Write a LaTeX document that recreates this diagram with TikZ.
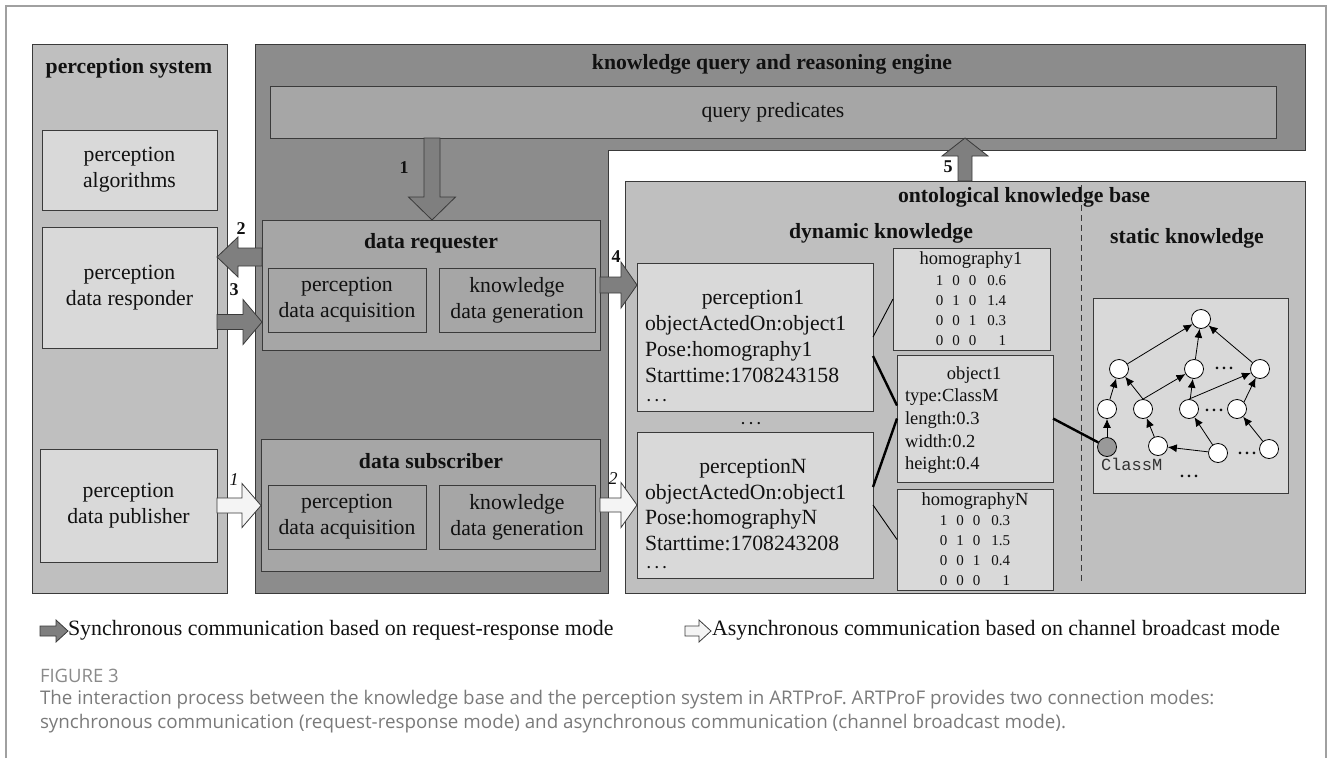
\documentclass[tikz,border=0pt]{standalone}
\usepackage{fontspec}
\setmainfont{Liberation Serif}
\setmonofont{Liberation Mono}
\newfontfamily\capfont{Open Sans}
\usetikzlibrary{calc,arrows.meta}
\definecolor{psgray}{HTML}{BFBFBF}
\definecolor{light}{HTML}{D9D9D9}
\definecolor{engcol}{HTML}{8C8C8C}
\definecolor{midgray}{HTML}{A6A6A6}
\definecolor{edge}{HTML}{3A3A3A}
\definecolor{arrfill}{HTML}{7F7F7F}
\definecolor{arrwhite}{HTML}{F4F4F4}
\definecolor{txtcol}{HTML}{111111}
\definecolor{framecol}{HTML}{A0A0A0}
\definecolor{capcol}{HTML}{7A7A7A}
\definecolor{capfig}{HTML}{8A8A8A}
\definecolor{cmgray}{HTML}{999999}
\newcommand\fmain{\fontsize{21.7}{26}\selectfont}
\newcommand\fsmall{\fontsize{18.5}{22}\selectfont}
\newcommand\fmat{\fontsize{15}{20}\selectfont}
\newcommand\flab{\fontsize{18}{20}\selectfont}
\newcommand\fdots{\fontsize{14}{16}\selectfont\bfseries}
\newcommand\mydots{.\kern3pt.\kern3pt.}
\newcommand\widedots{.\kern4.5pt.\kern4.5pt.}
% horizontal block arrow: style, from, to, shaft half, head half, head length
\newcommand\harrow[6]{%
  \draw[#1] let \p1=#2, \p2=#3, \n1={sign(\x2-\x1)} in
  (\x1,{\y1+#4pt}) -- ({\x2-(\n1)*#6pt},{\y1+#4pt}) -- ({\x2-(\n1)*#6pt},{\y1+#5pt})
  -- (\x2,\y1) -- ({\x2-(\n1)*#6pt},{\y1-#5pt}) -- ({\x2-(\n1)*#6pt},{\y1-#4pt})
  -- (\x1,{\y1-#4pt}) -- cycle;}
% vertical block arrow
\newcommand\varrow[6]{%
  \draw[#1] let \p1=#2, \p2=#3, \n1={sign(\y2-\y1)} in
  ({\x1+#4pt},\y1) -- ({\x1+#4pt},{\y2-(\n1)*#6pt}) -- ({\x1+#5pt},{\y2-(\n1)*#6pt})
  -- (\x1,\y2) -- ({\x1-#5pt},{\y2-(\n1)*#6pt}) -- ({\x1-#4pt},{\y2-(\n1)*#6pt})
  -- ({\x1-#4pt},\y1) -- cycle;}
\begin{document}
\begin{tikzpicture}[x=1pt,y=-1pt,
  box/.style={draw=edge,line width=0.9pt,anchor=north west,inner sep=0pt,outer sep=0pt,text=txtcol},
  txt/.style={inner sep=0pt,outer sep=0pt,text=txtcol},
  darr/.style={draw=edge,line width=0.8pt,fill=arrfill},
  warr/.style={draw=edge,line width=0.8pt,fill=arrwhite},
  tnode/.style={circle,draw=black,line width=0.8pt,fill=white,minimum size=19pt,inner sep=0pt},
  tedge/.style={-{Latex[length=9pt,width=8pt]},line width=0.8pt},
  link/.style={line width=0.9pt,draw=black},
  blink/.style={line width=2.4pt,draw=black},
  lab/.style={txt,font=\flab\bfseries},
  ilab/.style={txt,font=\flab\itshape},
]
\useasboundingbox (0,0) rectangle (1330,758);
\draw[framecol,line width=1.3pt] (6,758) -- (6,6) -- (1326,6) -- (1326,758);

% ---------- perception system ----------
\node[box,fill=psgray,minimum width=195pt,minimum height=549pt] (ps) at (32,44) {};
\node[txt,font=\fmain\bfseries] (pst) at (129,68) {perception system};
\node[box,fill=light,minimum width=175pt,minimum height=80pt,font=\fmain,align=center] (palg) at (42,130) {perception\\algorithms};
\node[box,fill=light,minimum width=175pt,minimum height=121pt,font=\fmain,align=center] (presp) at (42,227) {perception\\data responder};
\node[box,fill=light,minimum width=177pt,minimum height=113pt,font=\fmain,align=center] (ppub) at (40,449) {perception\\data publisher};

% ---------- engine ----------
\draw[draw=edge,line width=0.9pt,fill=engcol] (255,44) -- (1305,44) -- (1305,150) -- (608,150) -- (608,593) -- (255,593) -- cycle;
\node[txt,font=\fmain\bfseries] (engt) at (772,64) {knowledge query and reasoning engine};
\node[box,fill=midgray,minimum width=1006pt,minimum height=52pt,font=\fmain] (qp) at (270,86) {query predicates};

\node[box,fill=midgray,minimum width=338pt,minimum height=130pt] (dr) at (262,220) {};
\node[txt,font=\fmain\bfseries] (drt) at (431,243) {data requester};
\node[box,fill=midgray,minimum width=158pt,minimum height=64pt,font=\fmain,align=center] (drA) at (268,268) {perception\\data acquisition};
\node[box,fill=midgray,minimum width=156pt,minimum height=64pt,font=\fmain,align=center] (drB) at (439,268) {knowledge\\data generation};

\node[box,fill=midgray,minimum width=339pt,minimum height=132pt] (ds) at (261,439) {};
\node[txt,font=\fmain\bfseries] (dst) at (431,461) {data subscriber};
\node[box,fill=midgray,minimum width=158pt,minimum height=64pt,font=\fmain,align=center] (dsA) at (268,485) {perception\\data acquisition};
\node[box,fill=midgray,minimum width=156pt,minimum height=64pt,font=\fmain,align=center] (dsB) at (439,485) {knowledge\\data generation};

% ---------- ontological knowledge base ----------
\node[box,fill=psgray,minimum width=680pt,minimum height=412pt] (kb) at (625,181) {};
\node[txt,font=\fmain\bfseries] (kbt) at (1024,197) {ontological knowledge base};
\node[txt,font=\fmain\bfseries] (dyn) at (881,233) {dynamic knowledge};
\node[txt,font=\fmain\bfseries] (sta) at (1187,238) {static knowledge};
\coordinate (dash1) at (1081,185);
\coordinate (dash2) at (1081,582);
\draw[edge,line width=0.8pt,dash pattern=on 6pt off 4pt] (dash1) -- (dash2);

% perception1
\node[box,fill=light,minimum width=236pt,minimum height=148pt] (p1) at (637,263) {};
\node[txt,font=\fmain,anchor=base] (p1t) at (753,304) {perception1};
\node[txt,font=\fmain,anchor=base west] (p1a) at (645,330) {objectActedOn:object1};
\node[txt,font=\fmain,anchor=base west] (p1b) at (645,356) {Pose:homography1};
\node[txt,font=\fmain,anchor=base west] (p1c) at (645,382) {Starttime:1708243158};
\node[txt,font=\fdots,anchor=base west] (p1d) at (647,401) {\widedots};
\node[txt,font=\fdots,anchor=base] (pdots) at (751,424) {\widedots};

% perceptionN
\node[box,fill=light,minimum width=236pt,minimum height=146pt] (pN) at (637,432) {};
\node[txt,font=\fmain,anchor=base] (pNt) at (753,473) {perceptionN};
\node[txt,font=\fmain,anchor=base west] (pNa) at (645,499) {objectActedOn:object1};
\node[txt,font=\fmain,anchor=base west] (pNb) at (645,524) {Pose:homographyN};
\node[txt,font=\fmain,anchor=base west] (pNc) at (645,550) {Starttime:1708243208};
\node[txt,font=\fdots,anchor=base west] (pNd) at (647,568) {\widedots};

% homography1
\node[box,fill=light,minimum width=157pt,minimum height=102pt] (hm1) at (893,248) {};
\node[txt,font=\fsmall,anchor=base] (hm1t) at (971,264) {homography1};
\node[txt,font=\fmat,anchor=north] (hm1m) at (971,271) {\begin{tabular}{@{}c@{\hspace{9pt}}c@{\hspace{9pt}}c@{\hspace{11pt}}r@{}}1&0&0&0.6\\0&1&0&1.4\\0&0&1&0.3\\0&0&0&1\end{tabular}};

% object1
\node[box,fill=light,minimum width=156pt,minimum height=127pt] (obj) at (897,355) {};
\node[txt,font=\fsmall,anchor=base] (objt) at (974,379) {object1};
\node[txt,font=\fsmall,anchor=base west] (obja) at (905,401) {type:ClassM};
\node[txt,font=\fsmall,anchor=base west] (objb) at (905,424) {length:0.3};
\node[txt,font=\fsmall,anchor=base west] (objc) at (905,447) {width:0.2};
\node[txt,font=\fsmall,anchor=base west] (objd) at (905,469) {height:0.4};

% homographyN
\node[box,fill=light,minimum width=156pt,minimum height=101pt] (hmN) at (897,489) {};
\node[txt,font=\fsmall,anchor=base] (hmNt) at (975,505) {homographyN};
\node[txt,font=\fmat,anchor=north] (hmNm) at (975,511) {\begin{tabular}{@{}c@{\hspace{9pt}}c@{\hspace{9pt}}c@{\hspace{11pt}}r@{}}1&0&0&0.3\\0&1&0&1.5\\0&0&1&0.4\\0&0&0&1\end{tabular}};

% links
\draw[link] (p1.east) -- (hm1.west);
\draw[blink] ($(p1.east)+(0,19)$) -- ($(obj.west)+(0,-13)$);
\draw[blink] ($(pN.east)+(0,-18)$) -- (obj.west);
\draw[link] (pN.east) -- (hmN.west);

% static knowledge tree
\node[box,fill=light,minimum width=195pt,minimum height=195pt] (tb) at (1093,298) {};
\node[tnode] (t0) at (1201,319) {};
\node[tnode] (t1a) at (1119,369) {};
\node[tnode] (t1b) at (1194,369) {};
\node[tnode] (t1c) at (1260,369) {};
\node[tnode] (t2a) at (1107,409) {};
\node[tnode] (t2b) at (1143,409) {};
\node[tnode] (t2c) at (1189,409) {};
\node[tnode] (t2d) at (1237,409) {};
\node[tnode,fill=cmgray] (cm) at (1107,447) {};
\node[tnode] (t3a) at (1158,446) {};
\node[tnode] (t3b) at (1218,453) {};
\node[tnode] (t3c) at (1269,449) {};
\node[txt,font=\fontsize{16}{18}\selectfont\bfseries] (td1) at (1224,368) {\mydots};
\node[txt,font=\fontsize{16}{18}\selectfont\bfseries] (td2) at (1214,410) {\mydots};
\node[txt,font=\fontsize{16}{18}\selectfont\bfseries] (td3) at (1247,453) {\mydots};
\node[txt,font=\fontsize{16}{18}\selectfont\bfseries] (td4) at (1189,476) {\mydots};
\node[txt,font=\ttfamily\fontsize{17}{19}\selectfont,text=black!80,anchor=west] (cmt) at (1101,464) {ClassM};
\draw[tedge] (t1a) -- (t0);
\draw[tedge] (t1b) -- (t0);
\draw[tedge] (t1c) -- (t0);
\draw[tedge] (t2a) -- (t1a);
\draw[tedge] (t2b.north) -- (t1a);
\draw[tedge] (t2b.north) -- (t1b);
\draw[tedge] (t2c) -- (t1b);
\draw[tedge] (t2c.north) -- (t1c);
\draw[tedge] (t2d.north east) -- (t1c);
\draw[tedge] (cm) -- (t2a);
\draw[tedge] (t3a) -- (t2b);
\draw[tedge] (t3b) -- (t3a);
\draw[tedge] (t3b) -- (t2c);
\draw[tedge] (t3c) -- (t2d);
\draw[blink] (obj.east) -- (cm);

% ---------- block arrows ----------
\varrow{darr}{($(qp.south west)+(162,0)$)}{(dr.north)}{8}{23.5}{23}
\harrow{darr}{($(dr.west)+(0,-28)$)}{(presp.east)}{9}{20}{21}
\harrow{darr}{($(presp.east)+(0,34.5)$)}{(dr.west)}{7.5}{22.5}{19}
\harrow{darr}{(dr.east)}{(p1.west)}{8}{23}{16}
\varrow{darr}{($(kb.north west)+(340,0)$)}{(qp.south)}{7}{23}{18}
\harrow{warr}{(ppub.east)}{(ds.west)}{7.5}{22}{19}
\harrow{warr}{(ds.east)}{(pN.west)}{7}{22.5}{16}
\node[lab] (l1) at (404,168) {1};
\node[lab] (l2) at (241,229) {2};
\node[lab] (l3) at (234,290) {3};
\node[lab] (l4) at (616,257) {4};
\node[lab] (l5) at (948,167) {5};
\node[ilab] (a1) at (234,480) {1};
\node[ilab] (a2) at (613,479) {2};

% ---------- legend ----------
\coordinate (lg1a) at (40,631);
\coordinate (lg1b) at (68,631);
\coordinate (lg2a) at (685,631);
\coordinate (lg2b) at (711,631);
\harrow{darr}{(lg1a)}{(lg1b)}{5}{11}{12}
\harrow{warr}{(lg2a)}{(lg2b)}{5}{11}{12}
\node[txt,font=\fontsize{21.9}{26}\selectfont,anchor=west] (lgt1) at (68,630) {Synchronous communication based on request-response mode};
\node[txt,font=\fontsize{21.9}{26}\selectfont,anchor=west] (lgt2) at (712,630) {Asynchronous communication based on channel broadcast mode};

% ---------- caption ----------
\node[txt,anchor=west,font=\capfont\fontsize{18.5}{22}\selectfont,text=capfig] (fig) at (40,676) {FIGURE 3};
\node[txt,anchor=west,font=\capfont\fontsize{18.8}{22}\selectfont,text=capcol] (cap1) at (40,700) {The interaction process between the knowledge base and the perception system in ARTProF. ARTProF provides two connection modes:};
\node[txt,anchor=west,font=\capfont\fontsize{18.8}{22}\selectfont,text=capcol] (cap2) at (40,724) {synchronous communication (request-response mode) and asynchronous communication (channel broadcast mode).};
\end{tikzpicture}
\end{document}
